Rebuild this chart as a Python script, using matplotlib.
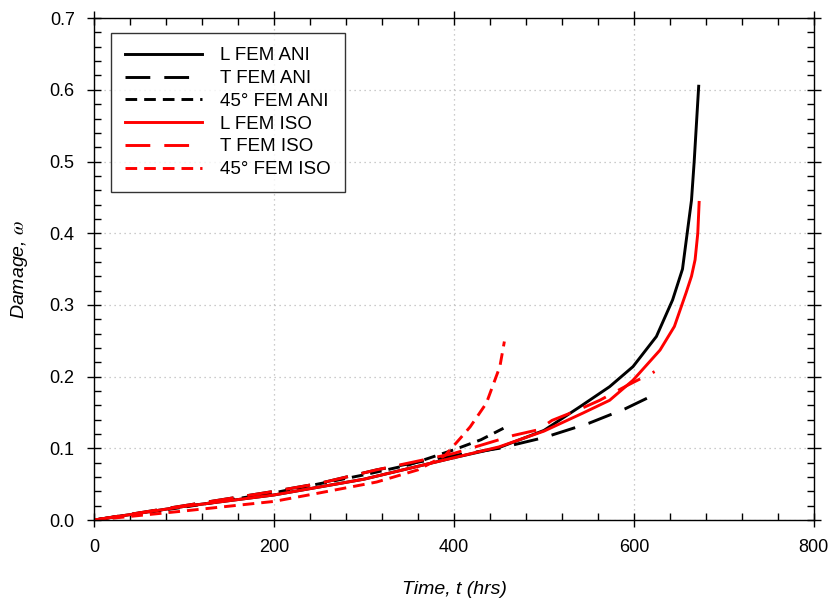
import numpy as np
import matplotlib
matplotlib.use("Agg")
import matplotlib.pyplot as plt
from matplotlib.ticker import MultipleLocator, FormatStrFormatter

plt.rcParams['font.family'] = ['Liberation Sans', 'DejaVu Sans']
plt.rcParams['mathtext.fontset'] = 'stix'

# valores (tempo em hrs, dano)
t_l_ani = [0, 100, 200, 300, 400, 450, 500, 540, 573, 599, 625, 643, 654, 664, 667, 672]
w_l_ani = [0, 0.019, 0.035, 0.057, 0.087, 0.101, 0.125, 0.158, 0.186, 0.214, 0.256, 0.307, 0.35, 0.446, 0.5, 0.605]

t_t_ani = [0, 100, 200, 250, 314, 400, 450, 500, 550, 590, 623]
w_t_ani = [0, 0.02, 0.04, 0.051, 0.07, 0.09, 0.1, 0.115, 0.135, 0.155, 0.175]

t_45_ani = [0, 100, 200, 300, 350, 400, 430, 455]
w_45_ani = [0, 0.018, 0.038, 0.063, 0.077, 0.098, 0.112, 0.128]

t_l_iso = [0, 100, 200, 300, 400, 450, 500, 543, 573, 599, 629, 645, 658, 664, 668, 671, 672.5]
w_l_iso = [0, 0.019, 0.035, 0.057, 0.087, 0.102, 0.124, 0.149, 0.167, 0.195, 0.237, 0.27, 0.317, 0.34, 0.363, 0.40, 0.443]

t_t_iso = [0, 100, 200, 250, 314, 400, 466, 494, 509, 537, 562, 593, 623]
w_t_iso = [0, 0.02, 0.04, 0.051, 0.07, 0.093, 0.118, 0.126, 0.139, 0.153, 0.167, 0.188, 0.207]

t_45_iso = [0, 95, 200, 247, 314, 360, 390, 407, 418, 436, 451, 456]
w_45_iso = [0, 0.012, 0.026, 0.037, 0.053, 0.07, 0.09, 0.114, 0.13, 0.163, 0.214, 0.249]

fig = plt.figure(figsize=(8.33, 6.04), dpi=100)
ax = fig.add_axes([0.113, 0.139, 0.864, 0.831])

lw = 2.1
long_dash = (0, (8.5, 4.8))
short_dash = (0, (4, 2.4))

ax.plot(t_l_ani, w_l_ani, color='black', lw=lw, ls='-', label='L FEM ANI')
ax.plot(t_t_ani, w_t_ani, color='black', lw=lw, ls=long_dash, label='T FEM ANI')
ax.plot(t_45_ani, w_45_ani, color='black', lw=lw, ls=short_dash, label='45° FEM ANI')
ax.plot(t_l_iso, w_l_iso, color='red', lw=lw, ls='-', label='L FEM ISO')
ax.plot(t_t_iso, w_t_iso, color='red', lw=lw, ls=long_dash, label='T FEM ISO')
ax.plot(t_45_iso, w_45_iso, color='red', lw=lw, ls=short_dash, label='45° FEM ISO')

ax.set_xlim(0, 800)
ax.set_ylim(0, 0.7)
ax.xaxis.set_major_locator(MultipleLocator(200))
ax.xaxis.set_minor_locator(MultipleLocator(40))
ax.yaxis.set_major_locator(MultipleLocator(0.1))
ax.yaxis.set_minor_locator(MultipleLocator(0.02))
ax.yaxis.set_major_formatter(FormatStrFormatter('%.1f'))

ax.tick_params(which='major', direction='inout', length=10, width=1, labelsize=13,
               top=True, right=True, pad=9)
ax.tick_params(which='minor', direction='in', length=5, width=1, top=True, right=True)
for s in ax.spines.values():
    s.set_linewidth(1)

ax.grid(True, which='major', ls=(0, (1, 3)), color='#bbbbbb', lw=0.9)
ax.set_axisbelow(True)

ax.set_xlabel('Time, t (hrs)', fontsize=14, style='italic', labelpad=18)
ax.set_ylabel(r'Damage, $\omega$', fontsize=14, style='italic', labelpad=14)

leg = ax.legend(loc='upper left', bbox_to_anchor=(0.023, 0.97), fontsize=13.5,
                handlelength=4.1, frameon=True, fancybox=False, borderpad=0.75,
                labelspacing=0.3, handletextpad=1.0, borderaxespad=0)
leg.get_frame().set_edgecolor('black')
leg.get_frame().set_linewidth(1)

fig.savefig('out.png', dpi=100)
